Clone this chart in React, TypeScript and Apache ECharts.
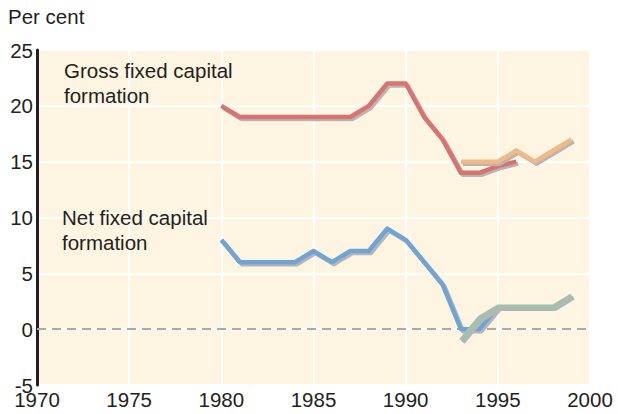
import React, { useEffect, useRef } from "react";
import * as echarts from "echarts";

const years = [1970,1971,1972,1973,1974,1975,1976,1977,1978,1979,1980,1981,1982,1983,1984,1985,1986,1987,1988,1989,1990,1991,1992,1993,1994,1995,1996,1997,1998,1999,2000];
const grossOld: [number, number][] = [
  [1980, 20],[1981, 19],[1982, 19],[1983, 19],[1984, 19],[1985, 19],[1986, 19],[1987, 19],
  [1988, 20],[1989, 22],[1990, 22],[1991, 19],[1992, 17],[1993, 14],[1994, 14],[1995, 14.6],[1996, 15],
];
const grossNew: [number, number][] = [
  [1993, 15],[1994, 15],[1995, 15],[1996, 16],[1997, 15],[1998, 16],[1999, 17],
];
const netOld: [number, number][] = [
  [1980, 8],[1981, 6],[1982, 6],[1983, 6],[1984, 6],[1985, 7],[1986, 6],[1987, 7],
  [1988, 7],[1989, 9],[1990, 8],[1991, 6],[1992, 4],[1993, 0],[1994, 0],[1995, 2],
];
const netNew: [number, number][] = [
  [1993, -1],[1994, 1],[1995, 2],[1996, 2],[1997, 2],[1998, 2],[1999, 3],
];
const yTicks = [-5, 0, 5, 10, 15, 20, 25];
const labels = {
  unit: "Per cent",
  gross: ["Gross fixed capital", "formation"],
  net: ["Net fixed capital", "formation"],
};

const FONT = "Liberation Sans, Arial, sans-serif";
const FS = 20.5;

function lineSeries(name: string, data: [number, number][], color: string, z: number) {
  return {
    name,
    type: "line",
    data,
    symbol: "none",
    z,
    lineStyle: {
      color,
      width: 4.5,
      shadowColor: "#b5b5b5",
      shadowBlur: 0,
      shadowOffsetX: 2,
      shadowOffsetY: 2,
      join: "round",
    },
  };
}

export default function App() {
  const ref = useRef<HTMLDivElement>(null);
  useEffect(() => {
    if (!ref.current) return;
    const chart = echarts.init(ref.current, undefined, { renderer: "svg" });
    chart.setOption({
      animation: false,
      backgroundColor: "#ffffff",
      textStyle: { fontFamily: FONT },
      grid: { left: 37, right: 28, top: 50, bottom: 29, show: true, backgroundColor: "#fdf5e1", borderWidth: 0 },
      xAxis: {
        type: "value",
        min: years[0],
        max: years[years.length - 1],
        interval: 5,
        axisLine: { show: false },
        axisTick: { show: false },
        axisLabel: { color: "#231f20", fontSize: FS, fontFamily: FONT, margin: 4, formatter: (v: number) => String(v) },
        splitLine: { show: true, lineStyle: { color: "#ffffff", width: 2 } },
      },
      yAxis: {
        type: "value",
        min: yTicks[0],
        max: yTicks[yTicks.length - 1],
        interval: 5,
        axisLine: { show: true, lineStyle: { color: "#231f20", width: 3 } },
        axisTick: { show: false },
        axisLabel: { color: "#231f20", fontSize: FS, fontFamily: FONT, margin: 4, lineHeight: 18, padding: [0, 0, 8, 0] },
        splitLine: { show: true, lineStyle: { color: "#ffffff", width: 2 } },
      },
      graphic: [
        { type: "text", left: 8, top: 6, z: 100, style: { text: labels.unit, font: `${FS}px ${FONT}`, fill: "#231f20" } },
        { type: "text", left: 64, top: 58, z: 100, style: { text: labels.gross.join("\n"), font: `${FS}px ${FONT}`, fill: "#231f20", lineHeight: 25 } },
        { type: "text", left: 62, top: 205, z: 100, style: { text: labels.net.join("\n"), font: `${FS}px ${FONT}`, fill: "#231f20", lineHeight: 25 } },
      ],
      series: [
        {
          ...lineSeries("grossOld", grossOld, "#d9736f", 3),
          markLine: {
            silent: true,
            symbol: "none",
            label: { show: false },
            lineStyle: { color: "#aaaaaa", type: [9, 6], width: 2, shadowBlur: 0, shadowOffsetX: 0, shadowOffsetY: 0 },
            data: [{ yAxis: 0 }],
            z: 1,
          },
        },
        lineSeries("grossNew", grossNew, "#f0b985", 4),
        lineSeries("netOld", netOld, "#6fa3d6", 3),
        lineSeries("netNew", netNew, "#a2c0ab", 4),
      ],
    });
    return () => chart.dispose();
  }, []);
  return <div ref={ref} style={{ width: 618, height: 414, position: "absolute", left: 0, top: 0 }} />;
}
